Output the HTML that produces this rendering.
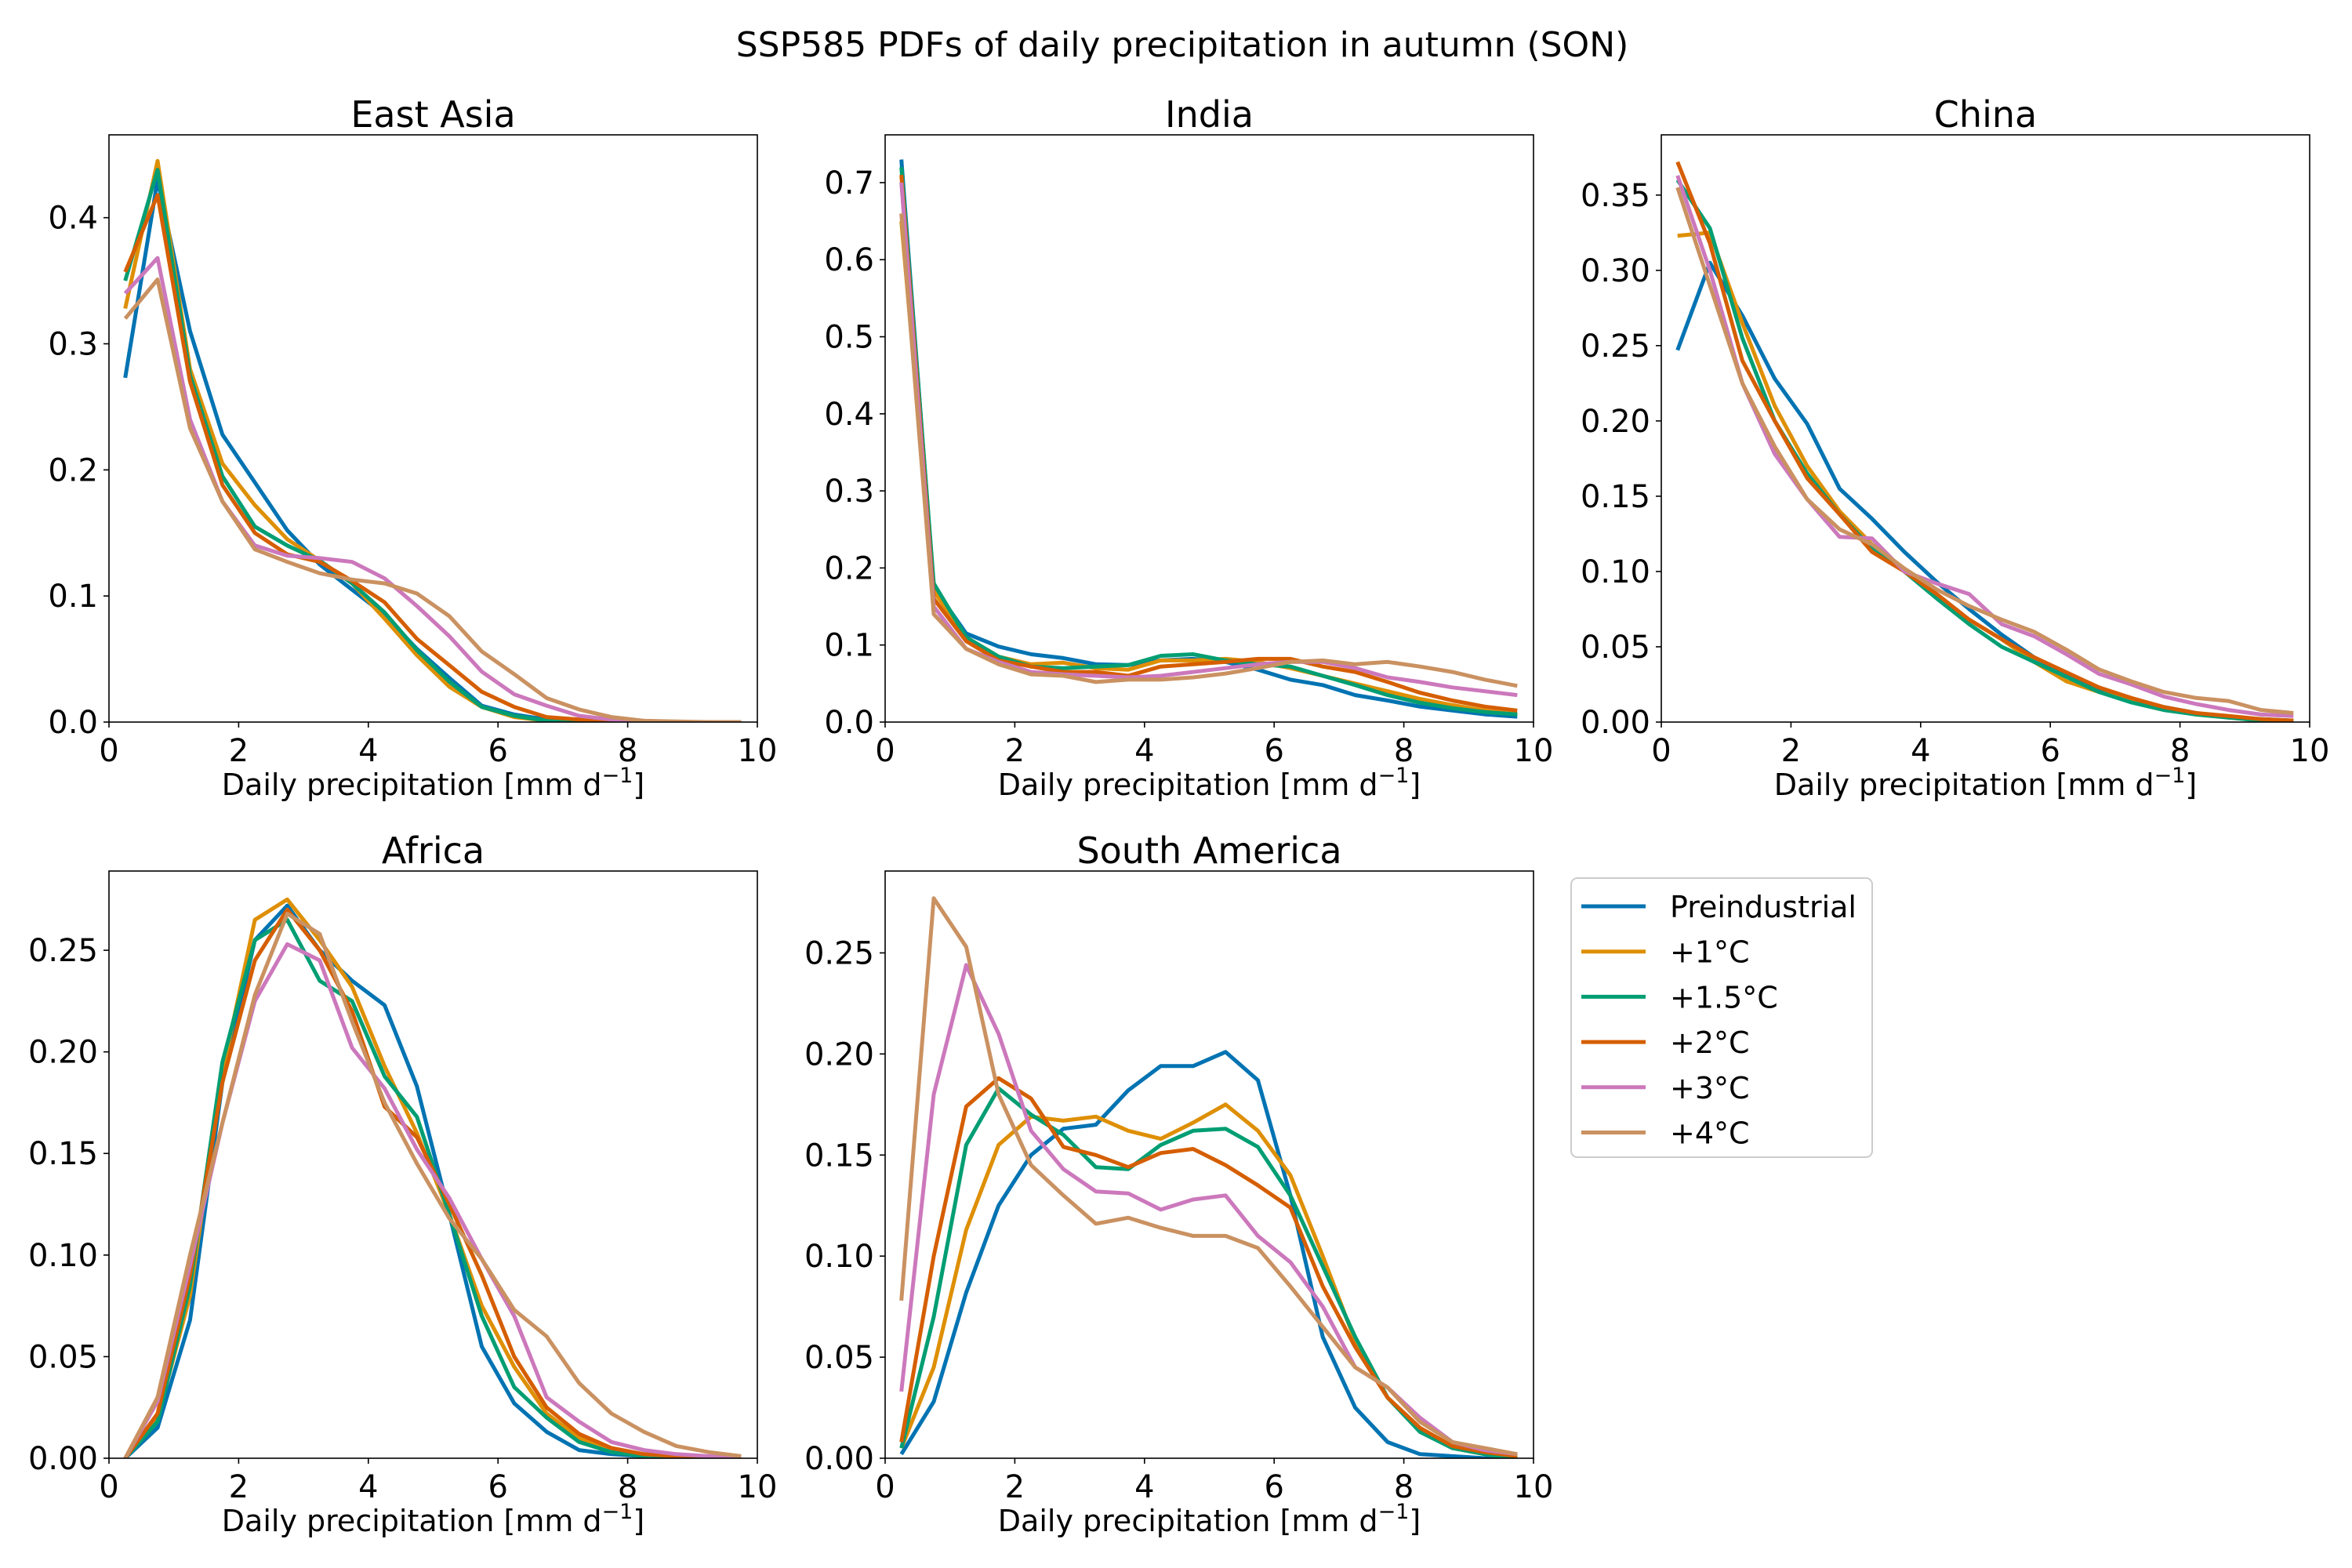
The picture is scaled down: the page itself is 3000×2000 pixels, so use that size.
<!DOCTYPE html>
<html><head><meta charset="utf-8">
<style>
body{margin:0;background:#fff;}
svg{display:block;font-family:"DejaVu Sans","Liberation Sans",sans-serif;}
</style></head>
<body>
<svg id="fig" width="3000" height="2000" viewBox="0 0 3000 2000">
<rect width="3000" height="2000" fill="#fff"/>
<text x="1508" y="72" font-size="44" text-anchor="middle">SSP585 PDFs of daily precipitation in autumn (SON)</text>
</svg>
<script>
const seriesNames = ["Preindustrial","+1°C","+1.5°C","+2°C","+3°C","+4°C"];
const colors = ["#0173B2","#DE8F05","#029E73","#D55E00","#CC78BC","#CA9161"];
const xCenters = [0.25,0.75,1.25,1.75,2.25,2.75,3.25,3.75,4.25,4.75,5.25,5.75,6.25,6.75,7.25,7.75,8.25,8.75,9.25,9.75];
const xTicks = [0,2,4,6,8,10];

const eaPre = [0.273,0.43,0.31,0.228,0.19,0.152,0.125,0.105,0.085,0.058,0.035,0.013,0.006,0.002,0,0,0,0,0,0];
const ea1 = [0.328,0.445,0.28,0.205,0.172,0.145,0.128,0.11,0.082,0.053,0.028,0.012,0.004,0.001,0,0,0,0,0,0];
const ea15 = [0.35,0.438,0.275,0.195,0.155,0.14,0.128,0.11,0.087,0.057,0.032,0.012,0.005,0.001,0,0,0,0,0,0];
const ea2 = [0.357,0.418,0.27,0.188,0.15,0.133,0.127,0.112,0.095,0.066,0.045,0.024,0.012,0.004,0.002,0.001,0,0,0,0];
const ea3 = [0.34,0.368,0.24,0.175,0.14,0.132,0.13,0.127,0.114,0.092,0.068,0.04,0.022,0.013,0.005,0.002,0.001,0,0,0];
const ea4 = [0.32,0.351,0.233,0.175,0.137,0.127,0.118,0.113,0.11,0.102,0.084,0.056,0.038,0.019,0.01,0.004,0.001,0.0005,0,0];
const eaTicks = ["0.0","0.1","0.2","0.3","0.4"];

const inPre = [0.73,0.175,0.115,0.098,0.088,0.083,0.075,0.074,0.08,0.082,0.078,0.068,0.055,0.048,0.035,0.028,0.02,0.015,0.01,0.007];
const in1 = [0.65,0.17,0.11,0.085,0.075,0.077,0.07,0.068,0.08,0.08,0.082,0.078,0.07,0.06,0.05,0.04,0.03,0.022,0.015,0.01];
const in15 = [0.72,0.18,0.11,0.085,0.072,0.07,0.072,0.074,0.086,0.088,0.08,0.075,0.072,0.06,0.048,0.035,0.025,0.018,0.013,0.01];
const in2 = [0.71,0.16,0.105,0.08,0.072,0.065,0.065,0.06,0.072,0.075,0.078,0.082,0.082,0.072,0.065,0.052,0.038,0.028,0.02,0.015];
const in3 = [0.7,0.15,0.095,0.078,0.065,0.062,0.06,0.058,0.06,0.065,0.07,0.075,0.078,0.078,0.07,0.058,0.052,0.045,0.04,0.035];
const in4 = [0.66,0.14,0.095,0.075,0.062,0.06,0.052,0.055,0.055,0.058,0.063,0.07,0.078,0.08,0.075,0.078,0.072,0.065,0.055,0.047];
const inTicks = ["0.0","0.1","0.2","0.3","0.4","0.5","0.6","0.7"];

const chPre = [0.247,0.305,0.27,0.228,0.198,0.155,0.135,0.113,0.093,0.075,0.058,0.043,0.032,0.022,0.015,0.01,0.006,0.003,0.002,0.001];
const ch1 = [0.323,0.325,0.265,0.21,0.17,0.14,0.118,0.1,0.083,0.068,0.055,0.04,0.027,0.02,0.014,0.009,0.005,0.003,0.001,0.001];
const ch15 = [0.36,0.328,0.255,0.2,0.165,0.138,0.115,0.1,0.082,0.065,0.05,0.04,0.03,0.02,0.013,0.008,0.005,0.003,0.001,0.001];
const ch2 = [0.372,0.318,0.24,0.2,0.162,0.138,0.113,0.1,0.085,0.068,0.055,0.043,0.033,0.023,0.016,0.01,0.006,0.004,0.002,0.001];
const ch3 = [0.363,0.3,0.225,0.178,0.148,0.123,0.122,0.1,0.092,0.085,0.065,0.057,0.045,0.032,0.025,0.017,0.012,0.008,0.005,0.004];
const ch4 = [0.355,0.29,0.225,0.183,0.148,0.128,0.118,0.102,0.088,0.077,0.068,0.06,0.048,0.035,0.027,0.02,0.016,0.014,0.008,0.006];
const chTicks = ["0.00","0.05","0.10","0.15","0.20","0.25","0.30","0.35"];

const afPre = [0,0.015,0.068,0.185,0.255,0.272,0.25,0.235,0.223,0.183,0.12,0.055,0.027,0.013,0.004,0.002,0.001,0,0,0];
const af1 = [0,0.02,0.08,0.19,0.265,0.275,0.255,0.232,0.193,0.16,0.12,0.075,0.045,0.022,0.01,0.004,0.001,0,0,0];
const af15 = [0,0.018,0.085,0.195,0.255,0.265,0.235,0.225,0.188,0.168,0.12,0.07,0.035,0.02,0.008,0.003,0.001,0,0,0];
const af2 = [0,0.022,0.09,0.185,0.245,0.27,0.25,0.22,0.173,0.158,0.125,0.09,0.05,0.025,0.012,0.005,0.002,0.001,0,0];
const af3 = [0,0.028,0.095,0.165,0.225,0.253,0.245,0.202,0.182,0.152,0.128,0.098,0.07,0.03,0.018,0.008,0.004,0.002,0.001,0];
const af4 = [0,0.03,0.1,0.165,0.228,0.268,0.258,0.215,0.175,0.145,0.118,0.098,0.073,0.06,0.037,0.022,0.013,0.006,0.003,0.001];
const afTicks = ["0.00","0.05","0.10","0.15","0.20","0.25"];

const saPre = [0.002,0.028,0.082,0.125,0.15,0.163,0.165,0.182,0.194,0.194,0.201,0.187,0.13,0.06,0.025,0.008,0.002,0.001,0,0];
const sa1 = [0.005,0.045,0.113,0.155,0.169,0.167,0.169,0.162,0.158,0.166,0.175,0.162,0.14,0.1,0.058,0.03,0.015,0.005,0.002,0];
const sa15 = [0.005,0.07,0.155,0.183,0.17,0.16,0.144,0.143,0.155,0.162,0.163,0.154,0.13,0.095,0.06,0.03,0.013,0.005,0.002,0];
const sa2 = [0.008,0.1,0.174,0.188,0.178,0.154,0.15,0.144,0.151,0.153,0.145,0.135,0.124,0.085,0.055,0.03,0.015,0.006,0.003,0.001];
const sa3 = [0.033,0.18,0.244,0.21,0.162,0.143,0.132,0.131,0.123,0.128,0.13,0.11,0.097,0.075,0.045,0.035,0.02,0.008,0.004,0.002];
const sa4 = [0.078,0.277,0.253,0.18,0.145,0.13,0.116,0.119,0.114,0.11,0.11,0.104,0.085,0.065,0.045,0.035,0.018,0.008,0.005,0.002];
const saTicks = ["0.00","0.05","0.10","0.15","0.20","0.25"];

const NS = "http://www.w3.org/2000/svg";
const svg = document.getElementById('fig');
function mk(tag, attrs, parent){const e=document.createElementNS(NS,tag);for(const k in attrs)e.setAttribute(k,attrs[k]);(parent||svg).appendChild(e);return e;}

const panels = [
 {name:"East Asia", key:"east-asia", x:139, y:172, ymax:0.4657, ticks:eaTicks, data:[eaPre,ea1,ea15,ea2,ea3,ea4]},
 {name:"India", key:"india", x:1129, y:172, ymax:0.762, ticks:inTicks, data:[inPre,in1,in15,in2,in3,in4]},
 {name:"China", key:"china", x:2119, y:172, ymax:0.39, ticks:chTicks, data:[chPre,ch1,ch15,ch2,ch3,ch4]},
 {name:"Africa", key:"africa", x:139, y:1111, ymax:0.289, ticks:afTicks, data:[afPre,af1,af15,af2,af3,af4]},
 {name:"South America", key:"south-america", x:1129, y:1111, ymax:0.2905, ticks:saTicks, data:[saPre,sa1,sa15,sa2,sa3,sa4]}
];
const W=827, H=749;

panels.forEach(p=>{
  const g = mk('g',{});
  
  
  const sx = v => p.x + v/10*W;
  const sy = v => p.y + H - v/p.ymax*H;
  const clipId = 'clip-'+p.key;
  const cp = mk('clipPath',{id:clipId},g);
  mk('rect',{x:p.x,y:p.y,width:W,height:H},cp);
  p.data.forEach((arr,i)=>{
    const pts = arr.map((v,j)=>sx(xCenters[j]).toFixed(1)+','+sy(v).toFixed(1)).join(' ');
    const pl = mk('polyline',{points:pts,fill:'none',stroke:colors[i],'stroke-width':5,'stroke-linejoin':'round','clip-path':'url(#'+clipId+')'},g);
    
    
  });
  const fr = mk('rect',{x:p.x,y:p.y,width:W,height:H,fill:'none',stroke:'#000','stroke-width':1.6},g);
  
  
  xTicks.forEach(t=>{
    const X=sx(t);
    mk('line',{x1:X,y1:p.y+H,x2:X,y2:p.y+H+7,stroke:'#000','stroke-width':1.6},g);
    const tx = mk('text',{x:X,y:p.y+H+50,'font-size':40,'text-anchor':'middle'},g);
    tx.textContent=t;
    
    
  });
  p.ticks.forEach(t=>{
    const Y=sy(parseFloat(t));
    mk('line',{x1:p.x-7,y1:Y,x2:p.x,y2:Y,stroke:'#000','stroke-width':1.6},g);
    const ty = mk('text',{x:p.x-14,y:Y+14,'font-size':40,'text-anchor':'end'},g);
    ty.textContent=t;
    
    
  });
  const ti = mk('text',{x:p.x+W/2,y:p.y-10,'font-size':46,'text-anchor':'middle'},g);
  ti.textContent=p.name;
  
  
  const xl = mk('text',{x:p.x+W/2,y:p.y+H+93,'font-size':38,'text-anchor':'middle'},g);
  xl.textContent='Daily precipitation [mm d';
  const sup = mk('tspan',{dy:-16,'font-size':27},xl); sup.textContent='−1';
  const cl = mk('tspan',{dy:16},xl); cl.textContent=']';
  
  
});

const lg = mk('g',{});


mk('rect',{x:2004,y:1120,width:384,height:356,rx:8,fill:'#fff',stroke:'#ccc','stroke-width':2},lg);
seriesNames.forEach((n,i)=>{
  const Y = 1156 + i*57.7;
  const e = mk('g',{},lg);
  
  
  mk('line',{x1:2017,y1:Y,x2:2099,y2:Y,stroke:colors[i],'stroke-width':5},e);
  const t = mk('text',{x:2130,y:Y+14,'font-size':38},e);
  t.textContent=n;
});
</script>
</body></html>
